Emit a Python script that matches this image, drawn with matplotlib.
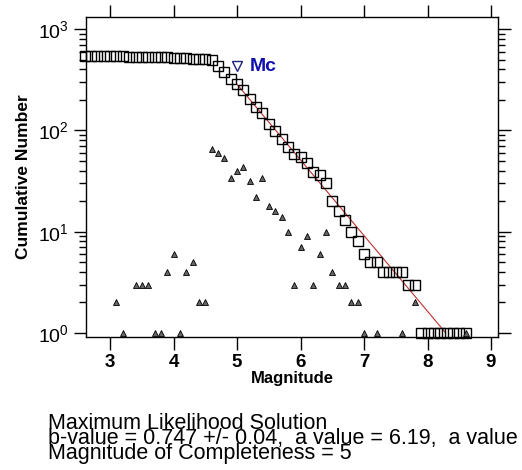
import numpy as np
import matplotlib
matplotlib.use('Agg')
import matplotlib.pyplot as plt
from matplotlib.ticker import LogLocator, NullFormatter, FixedLocator

plt.rcParams['font.family'] = ['Liberation Sans', 'DejaVu Sans']
plt.rcParams['mathtext.fontset'] = 'custom'
plt.rcParams['mathtext.rm'] = 'Liberation Sans:bold'
plt.rcParams['mathtext.bf'] = 'Liberation Sans:bold'

# Non-cumulative counts per 0.1 magnitude bin (only non-empty bins)
bin_mags = [3.1, 3.2, 3.4, 3.5, 3.6, 3.7, 3.8, 3.9, 4.0, 4.1, 4.2, 4.3, 4.4, 4.5,
            4.6, 4.7, 4.8, 4.9, 5.0, 5.1, 5.2, 5.3, 5.4,
            5.5, 5.6, 5.7, 5.8, 5.9, 6.0, 6.1, 6.2, 6.3, 6.4, 6.5, 6.6, 6.7,
            6.8, 6.9, 7.0, 7.2, 7.6, 7.8, 8.6]
bin_counts = [2, 1, 3, 3, 3, 1, 1, 4, 6, 1, 4, 5, 2, 2,
              65, 60, 54, 34, 40, 44, 32, 22, 34,
              18, 16, 14, 10, 3, 7, 9, 3, 6, 10, 4, 3, 3,
              2, 2, 1, 1, 1, 2, 1]

mag_min, mag_max = 2.6, 8.6
b_value = 0.747
b_err = 0.04
a_value = 6.19
mc = 5.0


def cumulative(mags, counts, lo, hi):
    """Cumulative number N(>=M) on a 0.1 grid"""
    grid = np.round(np.arange(lo, hi + 0.05, 0.1), 1)
    n = np.zeros(grid.size)
    for m, c in zip(mags, counts):
        n[np.argmin(np.abs(grid - m))] += c
    return grid, n[::-1].cumsum()[::-1]


grid, ncum = cumulative(bin_mags, bin_counts, mag_min, mag_max)

fig = plt.figure(figsize=(5.22, 4.70), dpi=100)
ax = fig.add_axes([86/522, 1 - 337/470, 412/522, 320/470])

ax.semilogy(grid, ncum, 's', mfc='none', mec='k', ms=7.5, mew=1.0,
            clip_on=False, zorder=3)
ax.semilogy(bin_mags, bin_counts, '^', mfc='0.4', mec='k', ms=4, mew=0.6,
            zorder=4)

# Maximum likelihood fit line log10(N) = a - b*M from Mc
m_end = a_value / b_value
mfit = np.array([mc, m_end])
ax.semilogy(mfit, 10**(a_value - b_value*mfit), '-', color='#c03030', lw=0.8,
            zorder=2)

# Mc marker
n_mc = ncum[np.argmin(np.abs(grid - mc))]
ax.semilogy([mc], [n_mc*1.5], 'v', mfc='none', mec='#202080', ms=7, mew=1.0)
ax.text(mc + 0.2, n_mc*1.5, 'Mc', color='#1010b0', fontsize=14,
        fontweight='bold', va='center', ha='left')

ax.set_xlim(2.62, 9.11)
ax.set_ylim(10**-0.04, 10**3.12)

ax.xaxis.set_major_locator(FixedLocator([3, 4, 5, 6, 7, 8, 9]))
ax.yaxis.set_major_locator(LogLocator(base=10, numticks=10))
ax.yaxis.set_minor_locator(LogLocator(base=10, subs=np.arange(2, 10), numticks=10))
ax.yaxis.set_minor_formatter(NullFormatter())

ax.tick_params(axis='x', which='both', direction='out', top=True, bottom=True,
               length=9, width=1, labelsize=13.5)
ax.tick_params(axis='y', which='major', direction='out', left=True, right=True,
               length=9, width=1, labelsize=14)
ax.tick_params(axis='y', which='minor', direction='out', left=True, right=True,
               length=5, width=1)
for lab in ax.get_xticklabels():
    lab.set_fontweight('bold')

for s in ax.spines.values():
    s.set_linewidth(1.0)

ax.set_xlabel('Magnitude', fontsize=12, fontweight='bold', labelpad=0)
ax.set_ylabel('Cumulative Number', fontsize=12.5, fontweight='bold', labelpad=5)

lines = ['Maximum Likelihood Solution',
         f'b-value = {b_value} +/- {b_err},  a value = {a_value},  a value',
         f'Magnitude of Completeness = {mc:g}']
for i, t in enumerate(lines):
    fig.text(48/522, 1 - (429 + 15*i)/470, t, fontsize=15.5, va='baseline',
             ha='left')

fig.savefig('out.png', dpi=100)
